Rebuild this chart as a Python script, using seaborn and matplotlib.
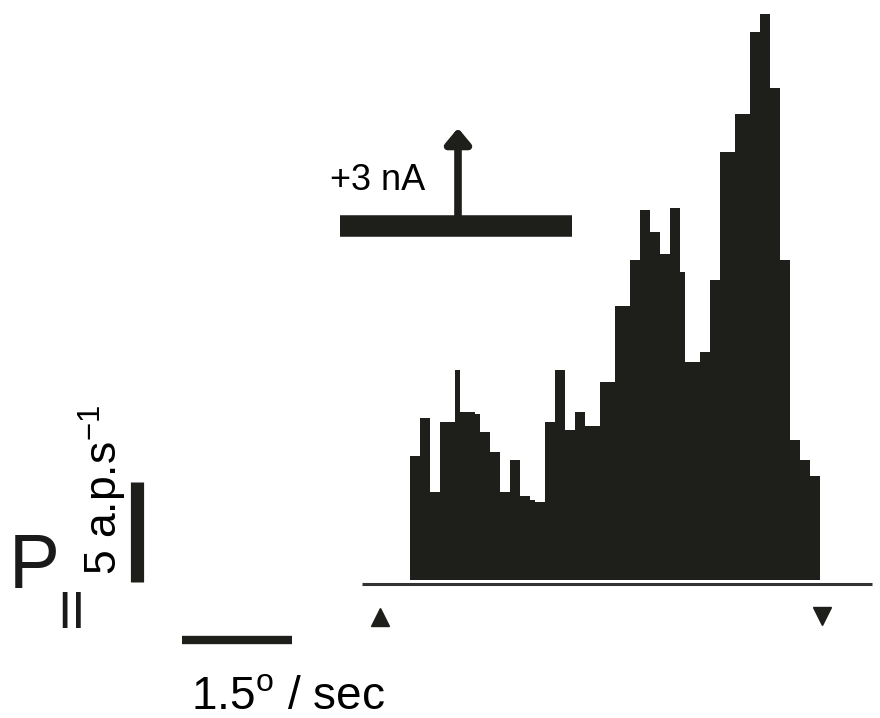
import numpy as np
import pandas as pd
import matplotlib
matplotlib.use("Agg")
import matplotlib.pyplot as plt
import seaborn as sns

# firing rate per bin (a.p./s)
rates = [
    6.2, 6.2, 8.1, 8.1, 4.4, 4.4, 7.9, 7.9, 7.9, 10.5,
    8.4, 8.4, 8.4, 8.3, 7.4, 7.4, 6.4, 6.4, 4.4, 4.4,
    6.0, 6.0, 4.2, 4.2, 4.0, 3.9, 3.9, 7.9, 7.9, 10.5,
    10.5, 7.5, 7.5, 8.4, 8.4, 7.7, 7.7, 7.7, 9.9, 9.9,
    9.9, 13.7, 13.7, 13.7, 16.0, 16.0, 18.5, 18.5, 17.4, 17.4,
    16.3, 16.3, 18.6, 18.6, 15.4, 10.9, 10.9, 10.9, 11.4, 11.4,
    15.0, 15.0, 21.4, 21.4, 21.4, 23.3, 23.3, 23.3, 27.4, 27.4,
    28.3, 28.3, 24.6, 24.6, 16.0, 16.0, 7.0, 7.0, 6.0, 6.0,
    5.2, 5.2,
]
n_bins = len(rates)
bin_index = np.arange(n_bins)

rate_scale = 5            # a.p.s-1 scale bar
velocity_scale_bins = 22  # length of the 1.5 deg/sec bar, in bins

ink = "#1e1e1a"

df = pd.DataFrame({"bin": bin_index + 0.5, "rate": rates})

sns.set_style("white")
plt.rcParams["font.family"] = ["Liberation Sans", "DejaVu Sans"]
plt.rcParams["mathtext.fontset"] = "custom"
plt.rcParams["mathtext.rm"] = "Liberation Sans"
plt.rcParams["mathtext.it"] = "Liberation Sans"

fig = plt.figure(figsize=(8.8, 7.18), dpi=100)
ax = fig.add_axes([0, 0, 1, 1])

sns.histplot(
    data=df,
    x="bin",
    weights="rate",
    binwidth=1,
    binrange=(0, n_bins),
    element="step",
    fill=True,
    alpha=1,
    color=ink,
    linewidth=0,
    ax=ax,
)

ax.set_xlim(-82, 94)
ax.set_ylim(-6.9, 29)
ax.set_axis_off()

# baseline under the histogram
ax.plot([-9.6, 92.4], [-0.2, -0.2], color="#333333", lw=2.2, solid_capstyle="butt")
# start / end markers
ax.plot(-6, -1.85, marker="^", color=ink, markersize=13, linestyle="none")
ax.plot(82.4, -1.8, marker="v", color=ink, markersize=13, linestyle="none")

# current step +3 nA
ax.plot([-14, 32.4], [17.7, 17.7], color=ink, lw=15.5, solid_capstyle="butt")
ax.annotate(
    "", xy=(9.6, 22.6), xytext=(9.6, 18.1),
    arrowprops=dict(arrowstyle="-|>,head_width=0.75,head_length=0.9",
                    color=ink, lw=5.5, shrinkA=0, shrinkB=0),
)
ax.text(-6.4, 19.95, "+3 nA", fontsize=26, ha="center", va="center", color="black")

# rate scale bar
ax.plot([-54.6, -54.6], [-0.1, rate_scale - 0.1], color=ink, lw=9.5, solid_capstyle="butt")
ax.text(-61.5, 4.5, "5 a.p.s$^{-1}$", fontsize=32, rotation=90,
        ha="center", va="center", color="black")

# P|| label
ax.text(-75.2, 0.6, "P", fontsize=55, ha="center", va="center", color="#1a1a1a")
ax.text(-67.6, -1.7, "II", fontsize=37, ha="center", va="center", color="#1a1a1a")

# velocity scale bar
ax.plot([-45.6, -45.6 + velocity_scale_bins], [-3.0, -3.0], color=ink, lw=6,
        solid_capstyle="butt")
ax.text(-24.4, -5.85, "1.5$^{\\mathrm{o}}$ / sec", fontsize=33,
        ha="center", va="center", color="black")

fig.savefig("out.png", dpi=100)
